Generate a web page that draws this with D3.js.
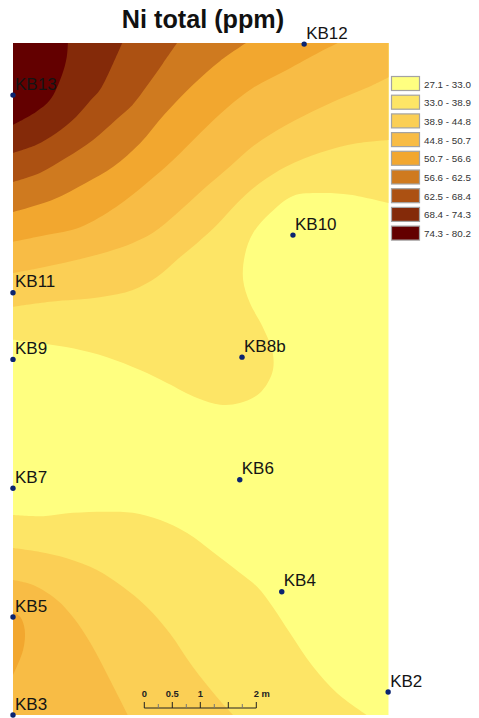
<!DOCTYPE html>
<html>
<head>
<meta charset="utf-8">
<script src="https://cdn.jsdelivr.net/npm/d3@7"></script>
<style>
  html, body { margin: 0; padding: 0; background: #fff; }
  svg { display: block; }
  text { font-family: "Liberation Sans", Arial, sans-serif; }
</style>
</head>
<body>
<div id="chart"></div>
<script>
// class breaks of Ni total (ppm), lowest first
const classLabels = ["27.1 - 33.0", "33.0 - 38.9", "38.9 - 44.8", "44.8 - 50.7", "50.7 - 56.6",
    "56.6 - 62.5", "62.5 - 68.4", "68.4 - 74.3", "74.3 - 80.2"];
const classColors = ["#ffff80", "#fde566", "#fbcf55", "#f8bc45", "#f2a72f",
    "#cf7a1f", "#ac5112", "#842a09", "#630000"];

// boreholes: name, metres east, metres north
const boreholes = [
    ["KB13", 0, 11.07], ["KB12", 5.2, 11.98], ["KB10", 5, 8.57], ["KB11", 0, 7.54],
    ["KB9", 0, 6.35], ["KB8b", 4.09, 6.39], ["KB6", 4.05, 4.2], ["KB7", 0, 4.05],
    ["KB5", 0, 1.75], ["KB4", 4.8, 2.2], ["KB3", 0, 0], ["KB2", 6.7, 0.41]
];

// isolines, in metres [east, north]
const iso33North = [[6.71,9.14],[6.02,9.29],[5.48,9.32],[5,9.27],[4.59,8.96],[4.29,8.61],[4.14,8.21],[4.11,7.77],
    [4.23,7.36],[4.46,6.93],[4.64,6.46],[4.63,6.11],[4.41,5.75],[4.05,5.57],[3.7,5.54],[3.29,5.66],[2.75,5.93],
    [2.27,6.16],[1.68,6.39],[1.07,6.55],[0.48,6.64],[0,6.7]];
const iso389North = [[6.71,10.27],[6.14,10.21],[5.48,10.04],[4.89,9.8],[4.41,9.5],[4,9.14],[3.64,8.75],[3.29,8.43],
    [2.93,8.13],[2.57,7.82],[2.14,7.59],[1.55,7.46],[0.66,7.38],[0,7.29]];
const iso448North = [[6.71,11.39],[6.32,11.2],[5.93,11.04],[5.48,10.84],[4.89,10.54],[4.29,10.16],[3.88,9.8],
    [3.39,9.38],[2.93,8.96],[2.5,8.61],[2.14,8.43],[1.68,8.27],[1.07,8.11],[0.48,7.98],[0,7.89]];
const iso507North = [[5.8,12],[5.48,11.84],[4.89,11.52],[4.29,11.2],[3.82,10.84],[3.34,10.39],[2.86,9.91],
    [2.39,9.5],[1.84,9.07],[1.2,8.71],[0.59,8.57],[0,8.45]];
const iso566 = [[4.16,12],[3.7,11.68],[3.21,11.25],[2.71,10.73],[2.27,10.21],[1.79,9.79],[1.3,9.5],[0.71,9.2],[0,8.98]];
const iso625 = [[2.93,12],[2.68,11.64],[2.39,11.23],[2.13,10.89],[1.84,10.63],[1.43,10.27],[0.95,9.95],[0.48,9.68],[0,9.52]];
const iso684 = [[1.95,12],[1.79,11.64],[1.55,11.16],[1.39,10.98],[1.125,10.68],[0.77,10.39],[0.41,10.18],[0,10.04]];
const iso743 = [[0.98,12],[0.96,11.75],[0.875,11.43],[0.66,10.98],[0.41,10.77],[0,10.54]];

const iso33South = [[0,3.57],[0.54,3.55],[1.07,3.61],[1.68,3.63],[2.14,3.61],[2.63,3.48],[3.11,3.25],[3.57,2.91],
    [4.05,2.54],[4.36,2.29],[4.64,1.93],[4.95,1.46],[5.36,0.86],[5.79,0.39],[6.32,0]];
const iso389South = [[0,2.98],[0.48,2.91],[0.96,2.8],[1.5,2.59],[1.96,2.29],[2.39,1.93],[2.8,1.46],[3.21,0.86],[3.64,0.32],[3.93,0]];
const iso448South = [[0,2.41],[0.36,2.32],[0.79,2.05],[1.07,1.75],[1.38,1.29],[1.73,0.63],[2.05,0]];
const iso507South = [[0,1.84],[0.13,1.75],[0.21,1.52],[0.18,1.16],[0,0.71]];

const mapWidth = 6.71, mapHeight = 12;
const scaleTicks = [0, 0.25, 0.5, 0.75, 1, 1.25, 1.5, 1.75, 2];
const scaleLabels = [[0, "0"], [0.5, "0.5"], [1, "1"], [2, "2 m"]];

const NW = [[0, mapHeight], [mapWidth, mapHeight]];   // lines running east to west close over the top
const N = [[0, mapHeight]];                           // lines that start on the top edge
const SW = [[0, 0]];                                  // around the bottom left corner

// painted in this order, each band on top of the one before
const bands = [
    { cls: 1, line: iso33North, corners: NW },
    { cls: 2, line: iso389North, corners: NW },
    { cls: 3, line: iso448North, corners: NW },
    { cls: 4, line: iso507North, corners: N },
    { cls: 5, line: iso566, corners: N },
    { cls: 6, line: iso625, corners: N },
    { cls: 7, line: iso684, corners: N },
    { cls: 8, line: iso743, corners: N },
    { cls: 1, line: iso33South, corners: SW },
    { cls: 2, line: iso389South, corners: SW },
    { cls: 3, line: iso448South, corners: SW },
    { cls: 4, line: iso507South, corners: [] }
];

const width = 479, height = 718;
const svg = d3.select("#chart").append("svg").attr("width", width).attr("height", height);

const x = d3.scaleLinear().domain([0, mapWidth]).range([13, 388.7]);
const y = d3.scaleLinear().domain([0, mapHeight]).range([715, 43]);
const curve = d3.line().x(d => x(d[0])).y(d => y(d[1])).curve(d3.curveCatmullRom.alpha(0.5));

svg.append("clipPath").attr("id", "mapClip").append("rect")
    .attr("x", x(0)).attr("y", y(mapHeight))
    .attr("width", x(mapWidth) - x(0)).attr("height", y(0) - y(mapHeight));

const map = svg.append("g").attr("clip-path", "url(#mapClip)");

map.append("rect")
    .attr("x", x(0)).attr("y", y(mapHeight))
    .attr("width", x(mapWidth) - x(0)).attr("height", y(0) - y(mapHeight))
    .attr("fill", classColors[0]);

map.selectAll("path.band")
    .data(bands)
    .join("path")
    .attr("class", "band")
    .attr("fill", d => classColors[d.cls])
    .attr("d", d => curve(d.line) + d.corners.map(c => `L${x(c[0])},${y(c[1])}`).join("") + "Z");

// title
svg.append("text")
    .attr("x", 203).attr("y", 28)
    .attr("text-anchor", "middle")
    .attr("font-size", 25.2).attr("font-weight", "bold")
    .attr("fill", "#111")
    .text("Ni total (ppm)");

// boreholes
const hole = svg.selectAll("g.hole")
    .data(boreholes)
    .join("g")
    .attr("class", "hole")
    .attr("transform", d => `translate(${x(d[1])},${y(d[2])})`);

hole.append("circle").attr("r", 2.7).attr("fill", "#0b2470");

hole.append("text")
    .attr("x", 2).attr("y", -5.5)
    .attr("font-size", 17)
    .attr("fill", "#141414")
    .text(d => d[0]);

// legend
const legend = svg.selectAll("g.legend")
    .data(classLabels)
    .join("g")
    .attr("class", "legend")
    .attr("transform", (d, i) => `translate(391.5,${76.5 + i * 18.7})`);

legend.append("rect")
    .attr("width", 28).attr("height", 14)
    .attr("fill", (d, i) => classColors[i])
    .attr("stroke", "#a3a3a3").attr("stroke-width", 1.2);

legend.append("text")
    .attr("x", 32.5).attr("y", 11)
    .attr("font-size", 9.8)
    .attr("fill", "#333")
    .text(d => d);

// scale bar
const barX = d3.scaleLinear().domain([0, 2]).range([144.3, 256.3]);
const bar = svg.append("g");

bar.append("line")
    .attr("x1", barX(0)).attr("x2", barX(2)).attr("y1", 708).attr("y2", 708)
    .attr("stroke", "#222").attr("stroke-width", 1);

bar.selectAll("line.tick")
    .data(scaleTicks)
    .join("line")
    .attr("class", "tick")
    .attr("x1", d => barX(d)).attr("x2", d => barX(d))
    .attr("y1", d => d % 0.5 === 0 ? 702 : 704).attr("y2", 708)
    .attr("stroke", d => d % 0.5 === 0 ? "#222" : "#777")
    .attr("stroke-width", 1);

bar.selectAll("text")
    .data(scaleLabels)
    .join("text")
    .attr("x", d => barX(d[0]))
    .attr("y", 696.5)
    .attr("text-anchor", d => d[1] === "2 m" ? "start" : "middle")
    .attr("dx", d => d[1] === "2 m" ? -2.5 : 0)
    .attr("font-size", 9.4).attr("font-weight", "bold")
    .attr("fill", "#222")
    .text(d => d[1]);
</script>
</body>
</html>
